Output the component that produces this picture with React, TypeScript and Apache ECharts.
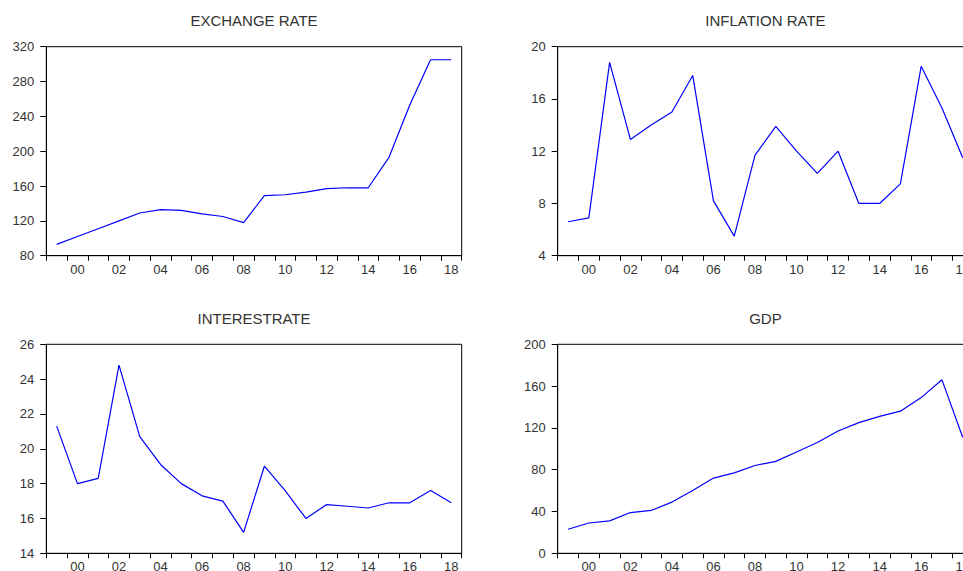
import React, { useEffect, useRef } from "react";
import * as echarts from "echarts";

const years = [
  "1999", "2000", "2001", "2002", "2003", "2004", "2005", "2006", "2007", "2008",
  "2009", "2010", "2011", "2012", "2013", "2014", "2015", "2016", "2017", "2018",
];

const exchangeRate = [93, 102, 111, 120, 129, 133, 132, 128, 125, 118, 149, 150, 153, 157, 158, 158, 193, 253, 305, 305];
const inflationRate = [6.6, 6.9, 18.8, 12.9, 14.0, 15.0, 17.8, 8.2, 5.5, 11.7, 13.9, 12.0, 10.3, 12.0, 8.0, 8.0, 9.5, 18.5, 15.3, 11.5];
const interestRate = [21.3, 18.0, 18.3, 24.8, 20.7, 19.1, 18.0, 17.3, 17.0, 15.2, 19.0, 17.6, 16.0, 16.8, 16.7, 16.6, 16.9, 16.9, 17.6, 16.9];
const gdp = [23, 29, 31, 39, 41, 49, 60, 72, 77, 84, 88, 97, 106, 117, 125, 131, 136, 149, 166, 111];

const panelTitles = ["EXCHANGE RATE", "INFLATION RATE", "INTERESTRATE", "GDP"];
const yRanges = [
  { min: 80, max: 320, interval: 40 },
  { min: 4, max: 20, interval: 4 },
  { min: 14, max: 26, interval: 2 },
  { min: 0, max: 200, interval: 40 },
];
const seriesData = [exchangeRate, inflationRate, interestRate, gdp];

export default function App() {
  const ref = useRef<HTMLDivElement>(null);
  useEffect(() => {
    if (!ref.current) return;
    const chart = echarts.init(ref.current, null, { renderer: "svg" });
    const W = 415.4;
    const H = 210;
    const grids = [
      { left: 46.3, top: 46.7 },
      { left: 557.7, top: 46.7 },
      { left: 46.3, top: 344.3 },
      { left: 557.7, top: 344.3 },
    ];
    const font = "'Liberation Sans', Arial, sans-serif";
    const labelColor = "#333";
    const option: any = {
      animation: false,
      backgroundColor: "#fff",
      grid: grids.map((g) => ({
        left: g.left,
        top: g.top,
        width: W,
        height: H - 1,
        show: true,
        borderColor: "#000",
        borderWidth: 1,
        backgroundColor: "transparent",
        containLabel: false,
        outerBoundsMode: "none",
      })),
      xAxis: grids.map((_, i) => ({
        type: "category",
        gridIndex: i,
        data: years,
        boundaryGap: true,
        axisLine: { lineStyle: { color: "#000", width: 1 } },
        axisTick: { show: true, interval: 0, length: 5, lineStyle: { color: "#000" } },
        axisLabel: {
          interval: (idx: number) => idx % 2 === 1,
          formatter: (v: string) => v.slice(2),
          fontSize: 13,
          fontFamily: font,
          color: labelColor,
          margin: 7,
        },
        splitLine: { show: false },
      })),
      yAxis: grids.map((_, i) => ({
        type: "value",
        gridIndex: i,
        min: yRanges[i].min,
        max: yRanges[i].max,
        interval: yRanges[i].interval,
        axisLine: { show: true, lineStyle: { color: "#000", width: 1 } },
        axisTick: { show: true, length: 6, lineStyle: { color: "#000" } },
        axisLabel: { fontSize: 13, fontFamily: font, color: labelColor, margin: 12 },
        splitLine: { show: false },
      })),
      series: seriesData.map((d, i) => ({
        type: "line",
        xAxisIndex: i,
        yAxisIndex: i,
        data: d,
        showSymbol: false,
        symbol: "none",
        lineStyle: { color: "#0000ff", width: 1.2 },
      })),
      graphic: panelTitles.map((t, i) => ({
        type: "text",
        x: grids[i].left + W / 2,
        y: i < 2 ? 20 : 318,
        style: {
          text: t,
          fontSize: 15,
          fontFamily: font,
          fill: "#333",
          textAlign: "center",
          textVerticalAlign: "middle",
        },
      })),
    };
    chart.setOption(option);
    return () => chart.dispose();
  }, []);
  return (
    <div
      ref={ref}
      style={{ position: "absolute", left: 0, top: 0, width: 963, height: 571, overflow: "hidden" }}
    />
  );
}
